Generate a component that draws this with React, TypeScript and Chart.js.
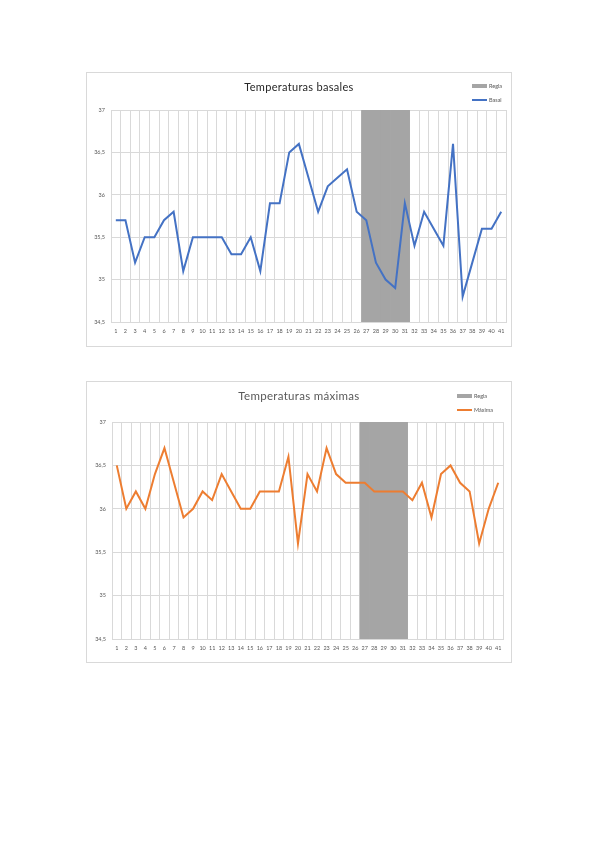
import { useEffect, useRef } from 'react';
import Chart from 'chart.js/auto';

// days of the cycle (x axis)
const days = [
  '1', '2', '3', '4', '5', '6', '7', '8', '9', '10',
  '11', '12', '13', '14', '15', '16', '17', '18', '19', '20',
  '21', '22', '23', '24', '25', '26', '27', '28', '29', '30',
  '31', '32', '33', '34', '35', '36', '37', '38', '39', '40', '41',
];

// basal temperature per day
const basal = [
  35.7, 35.7, 35.2, 35.5, 35.5, 35.7, 35.8, 35.1, 35.5, 35.5,
  35.5, 35.5, 35.3, 35.3, 35.5, 35.1, 35.9, 35.9, 36.5, 36.6,
  36.2, 35.8, 36.1, 36.2, 36.3, 35.8, 35.7, 35.2, 35.0, 34.9,
  35.9, 35.4, 35.8, 35.6, 35.4, 36.6, 34.8, 35.2, 35.6, 35.6, 35.8,
];

// max temperature per day
const maxima = [
  36.5, 36.0, 36.2, 36.0, 36.4, 36.7, 36.3, 35.9, 36.0, 36.2,
  36.1, 36.4, 36.2, 36.0, 36.0, 36.2, 36.2, 36.2, 36.6, 35.6,
  36.4, 36.2, 36.7, 36.4, 36.3, 36.3, 36.3, 36.2, 36.2, 36.2,
  36.2, 36.1, 36.3, 35.9, 36.4, 36.5, 36.3, 36.2, 35.6, 36.0, 36.3,
];

// period days (full-height band)
const regla = [
  null, null, null, null, null, null, null, null, null, null,
  null, null, null, null, null, null, null, null, null, null,
  null, null, null, null, null, null, 37, 37, 37, 37,
  37, null, null, null, null, null, null, null, null, null, null,
];

const yTicks = [34.5, 35, 35.5, 36, 36.5, 37];

const FONT = 'Lato, "Liberation Sans", sans-serif';
const GRID = '#d9d9d9';
const GRAY = '#a5a5a5';

interface TempChartProps {
  title: string;
  lineLabel: string;
  values: number[];
  color: string;
  left: number;
  top: number;
  width: number;
  height: number;
  pad: { top: number; right: number; yWidth: number; xHeight: number };
  titleY: number;
  titleSize: number;
  titleColor: string;
  legendX: number;
  legendY: number;
}

const TempChart = (p: TempChartProps) => {
  const chartRef = useRef<HTMLCanvasElement>(null);
  const chartInstance = useRef<Chart | null>(null);

  useEffect(() => {
    if (!chartRef.current) return;
    if (chartInstance.current) chartInstance.current.destroy();
    const ctx = chartRef.current.getContext('2d');
    if (!ctx) return;

    chartInstance.current = new Chart(ctx, {
      type: 'bar',
      data: {
        labels: days,
        datasets: [
          {
            type: 'bar',
            label: 'Regla',
            data: regla,
            backgroundColor: GRAY,
            borderWidth: 0,
            barPercentage: 1,
            categoryPercentage: 1,
            order: 1,
          },
          {
            type: 'line',
            label: p.lineLabel,
            data: p.values,
            borderColor: p.color,
            borderWidth: 2,
            pointRadius: 0,
            tension: 0,
            fill: false,
            order: 0,
          },
        ] as any,
      },
      options: {
        animation: false,
        responsive: false,
        maintainAspectRatio: false,
        layout: { padding: { top: p.pad.top, right: p.pad.right, left: 0, bottom: 0 } },
        plugins: {
          legend: { display: false },
          title: { display: false },
          tooltip: { enabled: false },
        },
        scales: {
          x: {
            offset: true,
            grid: { color: GRID, offset: true, drawTicks: false, lineWidth: 1 },
            border: { color: GRID },
            ticks: {
              autoSkip: false,
              maxRotation: 0,
              minRotation: 0,
              padding: 6,
              color: '#595959',
              font: { family: FONT, size: 5.5 },
            },
            afterFit: (scale: any) => {
              scale.height = p.pad.xHeight;
            },
          },
          y: {
            min: yTicks[0],
            max: yTicks[yTicks.length - 1],
            afterBuildTicks: (scale: any) => {
              scale.ticks = yTicks.map((v) => ({ value: v }));
            },
            grid: { color: GRID, drawTicks: false },
            border: { display: false },
            ticks: {
              padding: 6,
              color: '#595959',
              font: { family: FONT, size: 5.5 },
              callback: (v: any) => String(v).replace('.', ','),
            },
            afterFit: (scale: any) => {
              scale.width = p.pad.yWidth;
            },
          },
        },
      },
    });

    return () => {
      if (chartInstance.current) {
        chartInstance.current.destroy();
        chartInstance.current = null;
      }
    };
  }, [p]);

  const legendItems = [
    { name: 'Regla', color: GRAY, thick: 4 },
    { name: p.lineLabel, color: p.color, thick: 2 },
  ];

  return (
    <div
      style={{
        position: 'absolute',
        left: p.left,
        top: p.top,
        width: p.width,
        height: p.height,
        border: '1px solid #d9d9d9',
        background: '#fff',
      }}
    >
      <canvas ref={chartRef} width={p.width} height={p.height} style={{ display: 'block' }} />
      <div
        style={{
          position: 'absolute',
          left: 0,
          width: p.width,
          top: p.titleY,
          textAlign: 'center',
          fontFamily: FONT,
          fontSize: p.titleSize,
          color: p.titleColor,
          letterSpacing: 0.3,
          lineHeight: 1,
        }}
      >
        {p.title}
      </div>
      <div style={{ position: 'absolute', left: p.legendX, top: p.legendY }}>
        {legendItems.map((item) => (
          <div key={item.name} style={{ display: 'flex', alignItems: 'center', height: 14 }}>
            <div style={{ width: 15, height: item.thick, background: item.color, marginRight: 2 }} />
            <span style={{ fontFamily: FONT, fontSize: 5.5, color: '#595959' }}>{item.name}</span>
          </div>
        ))}
      </div>
    </div>
  );
};

const chart1 = {
  title: 'Temperaturas basales',
  lineLabel: 'Basal',
  values: basal,
  color: '#4472c4',
  left: 86,
  top: 72,
  width: 424,
  height: 273,
  pad: { top: 37, right: 5, yWidth: 24, xHeight: 24 },
  titleY: 8,
  titleSize: 11,
  titleColor: '#262626',
  legendX: 385,
  legendY: 6,
};

const chart2 = {
  title: 'Temperaturas máximas',
  lineLabel: 'Máxima',
  values: maxima,
  color: '#ed7d31',
  left: 86,
  top: 381,
  width: 424,
  height: 280,
  pad: { top: 40, right: 8, yWidth: 25, xHeight: 23 },
  titleY: 8,
  titleSize: 11.5,
  titleColor: '#595959',
  legendX: 370,
  legendY: 7,
};

export default function App() {
  return (
    <div style={{ position: 'absolute', left: 0, top: 0, width: 599, height: 848, background: '#fff' }}>
      <TempChart {...chart1} />
      <TempChart {...chart2} />
    </div>
  );
}
